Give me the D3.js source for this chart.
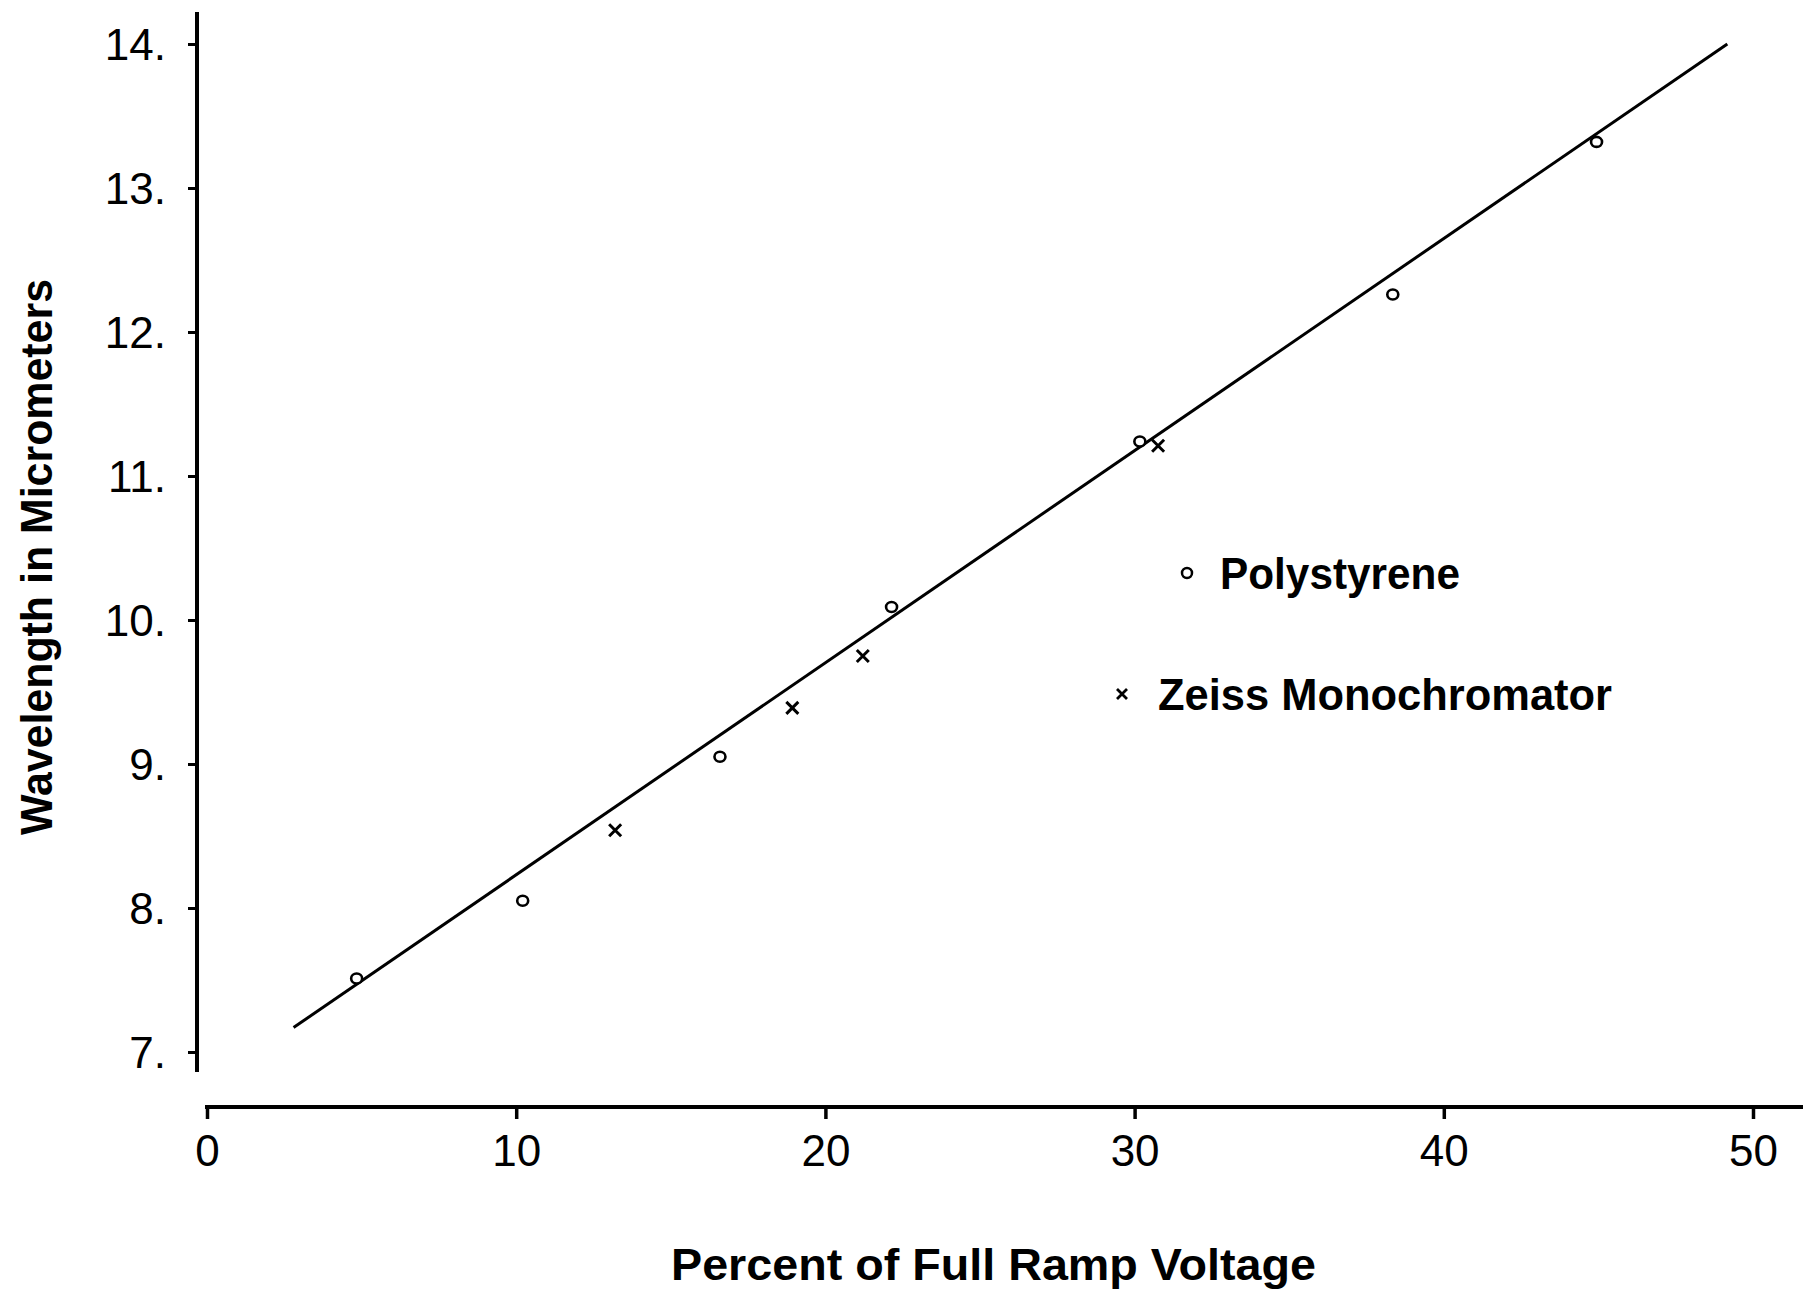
<!DOCTYPE html>
<html>
<head>
<meta charset="utf-8">
<script src="https://cdn.jsdelivr.net/npm/d3@7"></script>
<style>
  body { margin: 0; background: #fff; }
  text { font-family: "Liberation Sans", Arial, sans-serif; fill: #000; }
</style>
</head>
<body>
<div id="chart"></div>
<script>
// values
var polyX = [4.84, 10.21, 16.59, 22.14, 30.17, 38.35, 44.94];
var polyY = [7.51, 8.05, 9.05, 10.09, 11.24, 12.26, 13.32];
var zeissX = [13.20, 18.93, 21.21, 30.76];
var zeissY = [8.54, 9.39, 9.75, 11.21];
var fitX = [2.80, 49.17];
var fitY = [7.17, 14.0];
var xTicks = [0, 10, 20, 30, 40, 50];
var yTicks = [7, 8, 9, 10, 11, 12, 13, 14];

var widthPage = 1805;
var heightPage = 1290;

var svg = d3.select("#chart").append("svg")
    .attr("width", widthPage).attr("height", heightPage);

var x = d3.scaleLinear().domain([0, 50]).range([207, 1753]);
var y = d3.scaleLinear().domain([7, 14]).range([1052, 44]);

var axisY = 197;   // x position of the vertical axis
var axisX = 1107;  // y position of the horizontal axis

// vertical axis
svg.append("line").attr("x1", axisY).attr("x2", axisY)
    .attr("y1", 12).attr("y2", 1072)
    .attr("stroke", "#000").attr("stroke-width", 4);
var yAxis = svg.append("g").attr("transform", `translate(${axisY},0)`)
    .call(d3.axisLeft(y).tickValues(yTicks).tickSize(9).tickPadding(22)
        .tickFormat(function(d) { return d + "."; }));
yAxis.select(".domain").remove();
yAxis.selectAll(".tick line").attr("stroke-width", 3);
yAxis.selectAll(".tick text").attr("font-size", 44).attr("font-family", "Liberation Sans")
    .attr("dy", "0.36em");

// horizontal axis
svg.append("line").attr("x1", 205).attr("x2", 1803)
    .attr("y1", axisX).attr("y2", axisX)
    .attr("stroke", "#000").attr("stroke-width", 4);
var xAxis = svg.append("g").attr("transform", `translate(0,${axisX})`)
    .call(d3.axisBottom(x).tickValues(xTicks).tickSize(12).tickPadding(16));
xAxis.select(".domain").remove();
xAxis.selectAll(".tick line").attr("stroke-width", 3.5);
xAxis.selectAll(".tick text").attr("font-size", 44).attr("font-family", "Liberation Sans");

// fitted line
svg.append("line")
    .attr("x1", x(fitX[0])).attr("y1", y(fitY[0]))
    .attr("x2", x(fitX[1])).attr("y2", y(fitY[1]))
    .attr("stroke", "#000").attr("stroke-width", 3);

// polystyrene points
svg.selectAll(".poly").data(polyX).enter().append("ellipse").classed("poly", true)
    .attr("cx", function(d) { return x(d); })
    .attr("cy", function(d, i) { return y(polyY[i]); })
    .attr("rx", 5.5).attr("ry", 5)
    .attr("fill", "#fff").attr("stroke", "#000").attr("stroke-width", 2.6);

// zeiss points
var cross = function(cx, cy, s) {
    return `M${cx - s},${cy - s}L${cx + s},${cy + s}M${cx + s},${cy - s}L${cx - s},${cy + s}`;
};
svg.selectAll(".zeiss").data(zeissX).enter().append("path").classed("zeiss", true)
    .attr("d", function(d, i) { return cross(x(d), y(zeissY[i]), 6); })
    .attr("stroke", "#000").attr("stroke-width", 3).attr("fill", "none");

// legend
svg.append("ellipse").attr("cx", 1187).attr("cy", 573).attr("rx", 5).attr("ry", 5)
    .attr("fill", "#fff").attr("stroke", "#000").attr("stroke-width", 2.5);
svg.append("text").attr("x", 1220).attr("y", 589).attr("font-size", 45)
    .attr("font-weight", "bold").attr("textLength", 240).attr("lengthAdjust", "spacingAndGlyphs")
    .text("Polystyrene");
svg.append("path").attr("d", cross(1122, 694, 5))
    .attr("stroke", "#000").attr("stroke-width", 2.8);
svg.append("text").attr("x", 1158).attr("y", 710).attr("font-size", 45)
    .attr("font-weight", "bold").attr("textLength", 454).attr("lengthAdjust", "spacingAndGlyphs")
    .text("Zeiss Monochromator");

// axis titles
svg.append("text").attr("x", 671).attr("y", 1280).attr("font-size", 45)
    .attr("font-weight", "bold").attr("textLength", 645).attr("lengthAdjust", "spacingAndGlyphs")
    .text("Percent of Full Ramp Voltage");
svg.append("text").attr("transform", "translate(52,835) rotate(-90)")
    .attr("font-size", 44).attr("font-weight", "bold")
    .attr("textLength", 556).attr("lengthAdjust", "spacingAndGlyphs")
    .text("Wavelength in Micrometers");
</script>
</body>
</html>
